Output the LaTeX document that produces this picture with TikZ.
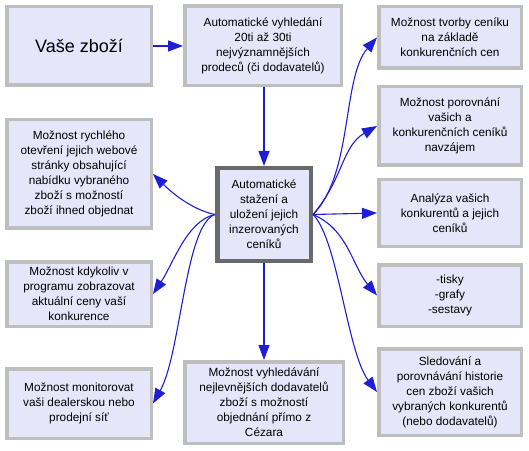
\documentclass[tikz,border=0pt]{standalone}
\usepackage{fontspec}
\setmainfont{Liberation Sans}
\usepackage{tikz}
\usetikzlibrary{arrows.meta, positioning}
\definecolor{boxfill}{RGB}{230, 230, 250}
\definecolor{boxline}{RGB}{190, 190, 190}
\definecolor{hubline}{RGB}{105, 105, 105}
\definecolor{flow}{RGB}{30, 30, 215}

\begin{document}
\begin{tikzpicture}[
    x=1pt, y=1pt,
    box/.style={rectangle, draw=boxline, fill=boxfill, line width=3.5pt, align=center, inner sep=2pt, font=\fontsize{11.8}{15}\selectfont},
    leftbox/.style={box, minimum width=144.5pt},
    rightbox/.style={box, minimum width=142.5pt},
    hub/.style={box, draw=hubline, line width=4.5pt},
    arrow/.style={-{Triangle[length=15pt, width=11pt]}, line width=1.1pt, color=flow}
]
    \useasboundingbox (0,0) rectangle (529,450);

    \node[leftbox, minimum height=78.5pt, font=\fontsize{18}{22}\selectfont] (vase) at (79,404) {Vaše zboží};

    \node[box, minimum width=156.5pt, minimum height=79.5pt, right=30pt of vase] (vyhled) {
        Automatické vyhledání\\
        20ti až 30ti\\
        nejvýznamnějších\\
        prodeců (či dodavatelů)
    };

    \node[hub, minimum width=93.5pt, minimum height=92.5pt] (stazeni) at (264,235.5) {
        Automatické\\
        stažení a\\
        uložení jejich\\
        inzerovaných\\
        ceníků
    };

    \node[box, minimum width=158.5pt, minimum height=81.5pt, below=97pt of stazeni] (nejlevnejsi) {
        Možnost vyhledávání\\
        nejlevnějších dodavatelů\\
        zboží s možností\\
        objednání přímo z\\
        Cézara
    };

    \node[leftbox, minimum height=108.5pt] (otevreni) at (79,276) {
        Možnost rychlého\\
        otevření jejich webové\\
        stránky obsahující\\
        nabídku vybraného\\
        zboží s možností\\
        zboží ihned objednat
    };
    \node[leftbox, minimum height=64.5pt, below=30pt of otevreni] (kdykoliv) {
        Možnost kdykoliv v\\
        programu zobrazovat\\
        aktuální ceny vaší\\
        konkurence
    };
    \node[leftbox, minimum height=69.5pt, below=39pt of kdykoliv] (monitor) {
        Možnost monitorovat\\
        vaši dealerskou nebo\\
        prodejní síť
    };

    \node[rightbox, minimum height=61.5pt] (tvorba) at (450,412.5) {
        Možnost tvorby ceníku\\
        na základě\\
        konkurenčních cen
    };
    \node[rightbox, minimum height=78.5pt, below=15pt of tvorba] (porovnani) {
        Možnost porovnání\\
        vašich a\\
        konkurenčních ceníků\\
        navzájem
    };
    \node[rightbox, minimum height=66.5pt, below=11pt of porovnani] (analyza) {
        Analýza vašich\\
        konkurentů a jejich\\
        ceníků
    };
    \node[rightbox, minimum height=61.5pt, below=15pt of analyza] (tisky) {
        -tisky\\
        -grafy\\
        -sestavy
    };
    \node[rightbox, minimum height=86.5pt, below=19pt of tisky] (historie) {
        Sledování a\\
        porovnávání historie\\
        cen zboží vašich\\
        vybraných konkurentů\\
        (nebo dodavatelů)
    };

    \draw[arrow] (vase) -- (vyhled);
    \draw[arrow] (vyhled.south -| stazeni.north) -- (stazeni.north);
    \draw[arrow] (stazeni) -- (nejlevnejsi);

    \draw[arrow] (stazeni.east) .. controls +(40,40) and +(-35,-40) .. (tvorba.west);
    \draw[arrow] (stazeni.east) .. controls +(30,35) and +(-35,-20) .. (porovnani.west);
    \draw[arrow] (stazeni.east) -- (analyza.west);
    \draw[arrow] (stazeni.east) .. controls +(35,-15) and +(-25,30) .. (tisky.west);
    \draw[arrow] (stazeni.east) .. controls +(25,-25) and +(-30,40) .. (historie.west);

    \draw[arrow] (stazeni.west) .. controls +(-25,5) and +(15,-15) .. (otevreni.east);
    \draw[arrow] (stazeni.west) .. controls +(-28,-6) and +(20,30) .. (kdykoliv.east);
    \draw[arrow] (stazeni.west) .. controls +(-30,-10) and +(28,50) .. (monitor.east);
\end{tikzpicture}
\end{document}
